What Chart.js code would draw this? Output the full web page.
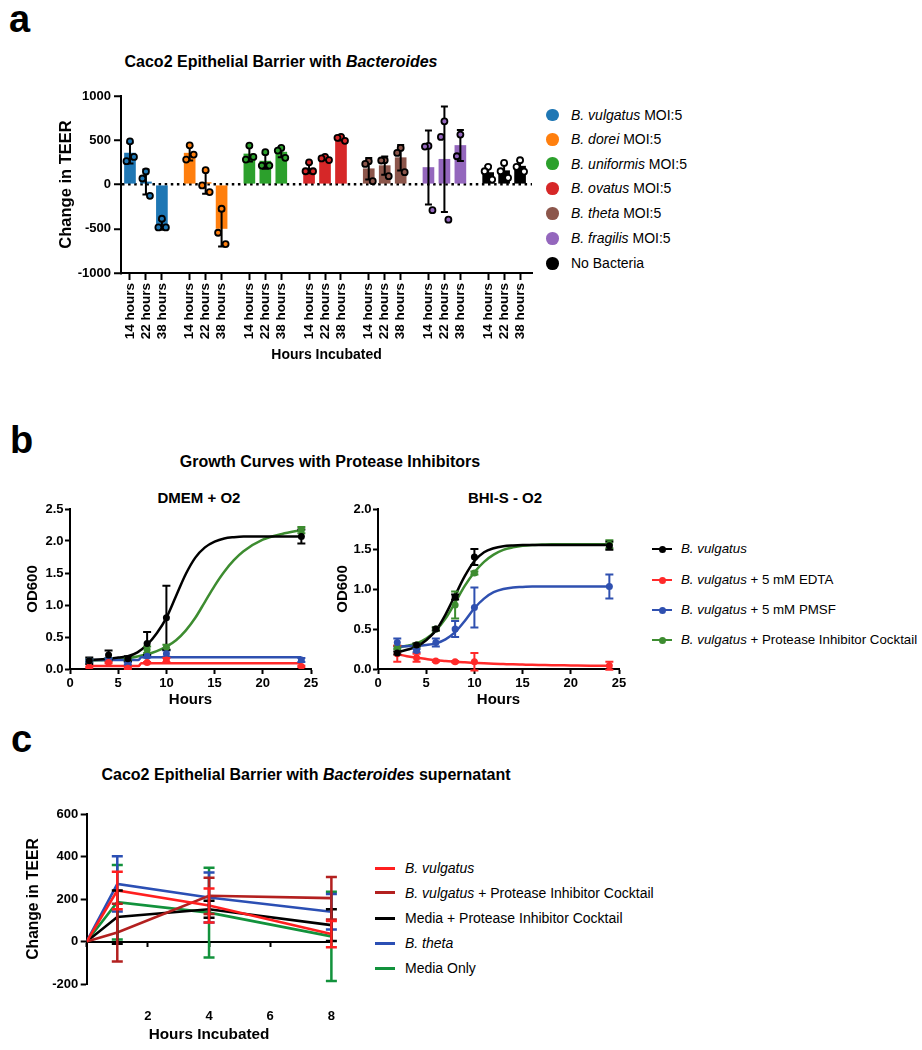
<!DOCTYPE html>
<html>
<head>
<meta charset="utf-8">
<script src="https://cdn.jsdelivr.net/npm/chart.js@4.4.1/dist/chart.umd.min.js"></script>
<style>
  body { margin: 0; background: #fff; font-family: 'Liberation Sans', Arial, sans-serif; color: #000; }
  #page { position: relative; width: 922px; height: 1050px; overflow: hidden; }
  canvas { position: absolute; }
  .txt { position: absolute; white-space: nowrap; }
  .letter { font-size: 38px; font-weight: bold; line-height: 38px; }
  .title { font-weight: bold; transform: translateX(-50%); }
  .mark { position: absolute; }
</style>
</head>
<body>
<div id="page">
  <div class="txt letter" style="left:9px; top:0px;">a</div>
  <div class="txt letter" style="left:10px; top:421px;">b</div>
  <div class="txt letter" style="left:11px; top:720px;">c</div>

  <div class="txt title" style="left:281px; top:54px; font-size:16px; line-height:16px;">Caco2 Epithelial Barrier with <i>Bacteroides</i></div>
  <div class="txt title" style="left:330px; top:454px; font-size:16px; line-height:16px;">Growth Curves with Protease Inhibitors</div>
  <div class="txt title" style="left:199px; top:490px; font-size:15px; line-height:15px;">DMEM + O2</div>
  <div class="txt title" style="left:505px; top:490px; font-size:15px; line-height:15px;">BHI-S - O2</div>
  <div class="txt title" style="left:306px; top:767px; font-size:16px; line-height:16px;">Caco2 Epithelial Barrier with <i>Bacteroides</i> supernatant</div>

  <canvas id="chartA" width="540" height="290" style="left:0px; top:80px;"></canvas>
  <canvas id="chartB1" width="320" height="225" style="left:0px; top:490px;"></canvas>
  <canvas id="chartB2" width="330" height="225" style="left:300px; top:490px;"></canvas>
  <canvas id="chartC" width="360" height="253" style="left:0px; top:795px;"></canvas>
</div>
<script>
// ---------- panel a : TEER with live bacteria ----------
const strainLabels = ['<i>B. vulgatus</i> MOI:5', '<i>B. dorei</i> MOI:5', '<i>B. uniformis</i> MOI:5', '<i>B. ovatus</i> MOI:5',
    '<i>B. theta</i> MOI:5', '<i>B. fragilis</i> MOI:5', 'No Bacteria'];
const strainColors = ['#1f77b4', '#ff7f0e', '#2ca02c', '#d62728', '#8c564b', '#9467bd', '#000000'];
const timeLabels = ['14 hours', '22 hours', '38 hours'];
const teerMean = [[355, 29, -455], [354, 22, -497], [345, 264, 366], [184, 295, 519], [178, 213, 303], [192, 285, 441], [135, 156, 207]];
const teerSD = [[118, 141, 56], [82, 127, 203], [84, 87, 58], [58, 19, 23], [121, 103, 144], [417, 597, 175], [73, 85, 64]];
const teerPoints = [
    [[488, 263, 312], [147, 68, -128], [-387, -485, -485]],
    [[443, 282, 338], [162, -11, -86], [-274, -545, -673]],
    [[440, 282, 312], [365, 214, 214], [413, 383, 301]],
    [[251, 150, 150], [313, 295, 276], [538, 527, 493]],
    [[263, 233, 38], [274, 271, 94], [413, 357, 139]],
    [[436, 429, -290], [714, 538, -398], [564, 319]],
    [[200, 150, 56], [244, 150, 75], [274, 200, 146]]
];

// ---------- panel b : growth curves ----------
const growthLabels = ['<i>B. vulgatus</i>', '<i>B. vulgatus</i> + 5 mM EDTA', '<i>B. vulgatus</i> + 5 mM PMSF',
    '<i>B. vulgatus</i> + Protease Inhibitor Cocktail'];
const growthColors = ['#000000', '#ff2a2a', '#2f50b0', '#3d8c30'];
const sampleHours = [2, 4, 6, 8, 10, 24];
const fitHours = [2, 3, 4, 5, 6, 7, 8, 9, 10, 11, 12, 13, 14, 15, 16, 17, 18, 20, 22, 24];
const stepHours = [2, 7.1, 7.4, 24];

// DMEM + O2
const dmemVulg = [0.13, 0.22, 0.16, 0.40, 0.80, 2.07];
const dmemVulgSD = [0.05, 0.07, 0.04, 0.18, 0.50, 0.11];
const dmemEdta = [0.03, 0.10, 0.01, 0.10, 0.14, 0.04];
const dmemEdtaSD = [0.01, 0.01, 0.01, 0.01, 0.03, 0.01];
const dmemPmsf = [0.13, 0.15, 0.09, 0.20, 0.24, 0.14];
const dmemPmsfSD = [0.02, 0.02, 0.02, 0.02, 0.05, 0.03];
const dmemPic = [0.13, 0.15, 0.15, 0.30, 0.34, 2.17];
const dmemPicSD = [0.02, 0.02, 0.02, 0.05, 0.04, 0.05];
const dmemVulgFit = [0.14, 0.15, 0.16, 0.18, 0.20, 0.26, 0.38, 0.56, 0.80, 1.14, 1.48, 1.74, 1.90, 1.99, 2.04, 2.06, 2.07, 2.07, 2.07, 2.07];
const dmemPicFit = [0.13, 0.135, 0.145, 0.155, 0.17, 0.195, 0.23, 0.28, 0.35, 0.45, 0.60, 0.80, 1.05, 1.30, 1.52, 1.70, 1.84, 2.02, 2.11, 2.17];
const dmemEdtaFit = [0.045, 0.045, 0.09, 0.09];
const dmemPmsfFit = [0.14, 0.14, 0.185, 0.185];

// BHI-S - O2
const bhiVulg = [0.20, 0.30, 0.50, 0.90, 1.40, 1.54];
const bhiVulgSD = [0.02, 0.02, 0.02, 0.03, 0.10, 0.05];
const bhiEdta = [0.19, 0.14, 0.10, 0.09, 0.09, 0.04];
const bhiEdtaSD = [0.10, 0.05, 0.01, 0.01, 0.11, 0.05];
const bhiPmsf = [0.33, 0.23, 0.33, 0.50, 0.77, 1.03];
const bhiPmsfSD = [0.05, 0.02, 0.05, 0.10, 0.25, 0.15];
const bhiPic = [0.27, 0.30, 0.50, 0.80, 1.20, 1.56];
const bhiPicSD = [0.02, 0.02, 0.02, 0.17, 0.02, 0.05];
const bhiVulgFit = [0.21, 0.24, 0.28, 0.36, 0.48, 0.68, 0.92, 1.16, 1.35, 1.46, 1.51, 1.535, 1.545, 1.55, 1.55, 1.55, 1.55, 1.55, 1.55, 1.55];
const bhiEdtaFit = [0.185, 0.16, 0.14, 0.125, 0.11, 0.10, 0.09, 0.083, 0.077, 0.071, 0.066, 0.062, 0.058, 0.055, 0.052, 0.05, 0.048, 0.045, 0.042, 0.04];
const bhiPmsfFit = [0.28, 0.285, 0.29, 0.30, 0.32, 0.37, 0.46, 0.60, 0.76, 0.88, 0.96, 1.0, 1.02, 1.025, 1.03, 1.03, 1.03, 1.03, 1.03, 1.03];
const bhiPicFit = [0.27, 0.29, 0.32, 0.38, 0.48, 0.63, 0.83, 1.04, 1.21, 1.34, 1.43, 1.49, 1.52, 1.54, 1.55, 1.555, 1.56, 1.56, 1.56, 1.56];

// ---------- panel c : TEER with supernatant ----------
const supLabels = ['<i>B. vulgatus</i>', '<i>B. vulgatus</i> + Protease Inhibitor Cocktail', 'Media + Protease Inhibitor Cocktail',
    '<i>B. theta</i>', 'Media Only'];
const supColors = ['#ff1f1f', '#b3201f', '#000000', '#2b4fb4', '#12923c'];
const supHours = [0, 1, 4, 8];
const supValues = [[0, 240, 169, 35], [0, 42, 215, 204], [0, 115, 152, 77], [0, 271, 207, 140], [0, 185, 136, 24]];
const supSD = [[0, 88, 80, 62], [0, 136, 85, 100], [0, 125, 40, 75], [0, 130, 118, 84], [0, 175, 211, 210]];

Chart.defaults.font.family = "'Liberation Sans', Arial, sans-serif";
Chart.defaults.color = '#000';

// error bars drawn through the chart scales, right after a given dataset is drawn
var errorBars = {
    id: 'errorBars',
    afterDatasetDraw: function (chart, args, opts) {
        (opts.sets || []).forEach(function (set) {
            if (set.after !== args.index) return;
            var ctx = chart.ctx, xs = chart.scales.x, ys = chart.scales.y;
            var data = chart.data.datasets[set.of].data;
            ctx.save();
            ctx.lineWidth = set.width;
            ctx.strokeStyle = set.color;
            data.forEach(function (d, i) {
                var e = set.err[i];
                if (!e) return;
                var px = xs.getPixelForValue(d.x);
                var hi = ys.getPixelForValue(d.y + e);
                var lo = ys.getPixelForValue(d.y - e);
                ctx.beginPath();
                ctx.moveTo(px, hi); ctx.lineTo(px, lo);
                ctx.moveTo(px - set.cap, hi); ctx.lineTo(px + set.cap, hi);
                ctx.moveTo(px - set.cap, lo); ctx.lineTo(px + set.cap, lo);
                ctx.stroke();
            });
            ctx.restore();
        });
    }
};

var boldFont = function (size) { return { size: size, weight: 'bold' }; };
var xy = function (xs, ys) { return xs.map(function (x, i) { return { x: x, y: ys[i] }; }); };

// ---------- chart a ----------
var grafico_a = function () {
    var groupStride = 3.74;
    var jitter = [0, -0.22, 0.25];
    var barX = [], barData = [], barColor = [], barLabel = [], barErr = [];
    var dotData = [], dotFill = [];
    strainColors.forEach(function (color, g) {
        timeLabels.forEach(function (t, i) {
            var x = g * groupStride + i;
            barX.push(x);
            barLabel.push(t);
            barData.push({ x: x, y: teerMean[g][i] });
            barErr.push(teerSD[g][i]);
            barColor.push(color);
            teerPoints[g][i].forEach(function (v, k) {
                dotData.push({ x: x + jitter[k], y: v });
                dotFill.push(g === strainColors.length - 1 ? '#ffffff' : color);
            });
        });
    });

    new Chart(document.getElementById('chartA'), {
        type: 'bar',
        data: {
            datasets: [
                { type: 'scatter', data: dotData, pointRadius: 3, pointBorderWidth: 1.8, pointBorderColor: '#000', pointBackgroundColor: dotFill },
                { type: 'bar', data: barData, backgroundColor: barColor, barThickness: 11, borderWidth: 0 }
            ]
        },
        plugins: [errorBars],
        options: {
            responsive: false, animation: false, devicePixelRatio: 1,
            layout: { padding: { top: 16, right: 8, left: 0, bottom: 0 } },
            plugins: {
                legend: { display: false }, tooltip: { enabled: false },
                errorBars: { sets: [{ of: 1, after: 1, err: barErr, color: '#000', width: 2, cap: 3.5 }] }
            },
            scales: {
                x: {
                    type: 'linear', min: -0.5625, max: 25.1875, offset: false,
                    afterBuildTicks: function (s) { s.ticks = barX.map(function (v) { return { value: v }; }); },
                    ticks: { autoSkip: false, minRotation: 90, maxRotation: 90, padding: 3, font: boldFont(13.5),
                        callback: function (v, i) { return barLabel[i]; } },
                    grid: { drawOnChartArea: false, offset: false, tickLength: 7, tickWidth: 2, tickColor: '#000' },
                    border: { color: '#000', width: 2 },
                    title: { display: true, text: 'Hours Incubated', font: boldFont(14), padding: { top: 0, bottom: 6.6 } },
                    afterFit: function (s) { s.height = 97; }
                },
                y: {
                    min: -1000, max: 1000,
                    ticks: { stepSize: 500, padding: 3, font: boldFont(13), callback: function (v) { return String(v); } },
                    grid: {
                        color: function (c) { return c.tick && c.tick.value === 0 ? '#000' : 'transparent'; },
                        lineWidth: 2.5, tickLength: 7, tickWidth: 2, tickColor: '#000'
                    },
                    border: { color: '#000', width: 2, dash: [2.5, 3.6] },
                    title: { display: true, text: 'Change in TEER', font: boldFont(16.5), padding: { top: 56.8, bottom: 0 } },
                    afterFit: function (s) { s.width = 121; }
                }
            }
        }
    });
};

// ---------- charts b ----------
var grafico_b = function (id, yMax, axisWidth, titlePad, points, errs, fits, fitXs) {
    var datasets = [];
    var sets = [];
    // points first (drawn last, on top)
    points.forEach(function (p, i) {
        datasets.push({ data: xy(sampleHours, p), showLine: false, pointRadius: 3.5, pointBorderWidth: 0,
            pointBackgroundColor: growthColors[i], borderColor: growthColors[i] });
    });
    fits.forEach(function (f, i) {
        datasets.push({ data: xy(fitXs[i], f), pointRadius: 0, borderWidth: 2.5, borderColor: growthColors[i],
            cubicInterpolationMode: 'monotone', fill: false });
    });
    // error bars after the last curve is drawn (index = points.length)
    for (var i = errs.length - 1; i >= 0; i--) {
        sets.push({ of: i, after: points.length, err: errs[i], color: growthColors[i], width: 2, cap: 4 });
    }
    new Chart(document.getElementById(id), {
        type: 'line',
        data: { datasets: datasets },
        plugins: [errorBars],
        options: {
            responsive: false, animation: false, devicePixelRatio: 1,
            layout: { padding: { top: 19, right: id === 'chartB1' ? 9 : 11, left: 0, bottom: 0 } },
            plugins: { legend: { display: false }, tooltip: { enabled: false }, errorBars: { sets: sets } },
            scales: {
                x: {
                    type: 'linear', min: 0, max: 25,
                    ticks: { stepSize: 5, padding: 1.5, font: boldFont(13) },
                    grid: { drawOnChartArea: false, tickLength: 5, tickWidth: 2, tickColor: '#000' },
                    border: { color: '#000', width: 2 },
                    title: { display: true, text: 'Hours', font: boldFont(15), padding: { top: 0, bottom: 6 } },
                    afterFit: function (s) { s.height = 46; }
                },
                y: {
                    min: 0, max: yMax,
                    ticks: { stepSize: 0.5, padding: 1.5, font: boldFont(13), callback: function (v) { return v.toFixed(1); } },
                    grid: { drawOnChartArea: false, tickLength: 5, tickWidth: 2, tickColor: '#000' },
                    border: { color: '#000', width: 2 },
                    title: { display: true, text: 'OD600', font: boldFont(15), padding: { top: titlePad, bottom: 0 } },
                    afterFit: function (s) { s.width = axisWidth; }
                }
            }
        }
    });
};

// ---------- chart c ----------
var grafico_c = function () {
    var datasets = supValues.map(function (v, i) {
        return { data: xy(supHours, v), pointRadius: 0, borderWidth: 2.6, borderColor: supColors[i], tension: 0, fill: false };
    });
    var sets = supSD.map(function (e, i) {
        return { of: i, after: 0, err: e, color: supColors[i], width: 2.5, cap: 5.5 };
    }).reverse();
    new Chart(document.getElementById('chartC'), {
        type: 'line',
        data: { datasets: datasets },
        plugins: [errorBars],
        options: {
            responsive: false, animation: false, devicePixelRatio: 1,
            layout: { padding: { top: 19, right: 17.3, left: 0, bottom: 0 } },
            plugins: { legend: { display: false }, tooltip: { enabled: false }, errorBars: { sets: sets } },
            scales: {
                x: {
                    type: 'linear', min: 0, max: 8,
                    ticks: { stepSize: 2, padding: 25, font: boldFont(13), callback: function (v) { return v === 0 ? '' : v; } },
                    grid: { display: false, drawTicks: false },
                    border: { display: false },
                    title: { display: true, text: 'Hours Incubated', font: boldFont(15.3), padding: { top: 0, bottom: 3.8 } },
                    afterFit: function (s) { s.height = 64; }
                },
                x2: {
                    type: 'linear', position: { y: 0 }, min: 0, max: 8,
                    ticks: { display: false, stepSize: 2 },
                    grid: { drawOnChartArea: false, tickLength: 4, tickWidth: 2, tickColor: '#000' },
                    border: { color: '#000', width: 2 },
                    afterFit: function (s) { s.height = 0; }
                },
                y: {
                    min: -200, max: 600,
                    ticks: { stepSize: 200, padding: 2.5, font: boldFont(13) },
                    grid: { drawOnChartArea: false, tickLength: 6, tickWidth: 2, tickColor: '#000' },
                    border: { color: '#000', width: 2 },
                    title: { display: true, text: 'Change in TEER', font: boldFont(15.6), padding: { top: 24.6, bottom: 0 } },
                    afterFit: function (s) { s.width = 86.7; }
                }
            }
        }
    });
};

// ---------- html legends ----------
var leyenda = function (labels, colors, rows, textLeft, fontSize, drawMark) {
    var page = document.getElementById('page');
    labels.forEach(function (html, i) {
        var t = document.createElement('div');
        t.className = 'txt';
        t.style.left = textLeft + 'px';
        t.style.top = (rows[i] - 0.49 * fontSize) + 'px';
        t.style.fontSize = fontSize + 'px';
        t.style.lineHeight = fontSize + 'px';
        t.innerHTML = html;
        page.appendChild(t);
        drawMark(page, colors[i], rows[i]);
    });
};

var mark = function (page, css) {
    var m = document.createElement('div');
    m.className = 'mark';
    Object.keys(css).forEach(function (k) { m.style[k] = css[k]; });
    page.appendChild(m);
};

grafico_a();
grafico_b('chartB1', 2.5, 70, 24,
    [dmemVulg, dmemEdta, dmemPmsf, dmemPic], [dmemVulgSD, dmemEdtaSD, dmemPmsfSD, dmemPicSD],
    [dmemVulgFit, dmemEdtaFit, dmemPmsfFit, dmemPicFit], [fitHours, stepHours, stepHours, fitHours]);
grafico_b('chartB2', 2.0, 78, 34,
    [bhiVulg, bhiEdta, bhiPmsf, bhiPic], [bhiVulgSD, bhiEdtaSD, bhiPmsfSD, bhiPicSD],
    [bhiVulgFit, bhiEdtaFit, bhiPmsfFit, bhiPicFit], [fitHours, fitHours, fitHours, fitHours]);
grafico_c();

leyenda(strainLabels, strainColors, [115, 139.3, 163.5, 188.3, 213.3, 238.3, 263.3], 571, 14, function (page, color, cy) {
    mark(page, { left: '546px', top: (cy - 6.3) + 'px', width: '12.6px', height: '12.6px', borderRadius: '50%', background: color });
});
leyenda(growthLabels, growthColors, [549, 580, 610, 640], 681, 13.3, function (page, color, cy) {
    mark(page, { left: '652px', top: (cy - 1.25) + 'px', width: '20px', height: '2.5px', background: color });
    mark(page, { left: '658.5px', top: (cy - 3.5) + 'px', width: '7px', height: '7px', borderRadius: '50%', background: color });
});
leyenda(supLabels, supColors, [868.3, 892.7, 918.3, 943.3, 968.3], 405, 14, function (page, color, cy) {
    mark(page, { left: '375px', top: (cy - 1.3) + 'px', width: '20px', height: '2.6px', background: color });
});
</script>
</body>
</html>
